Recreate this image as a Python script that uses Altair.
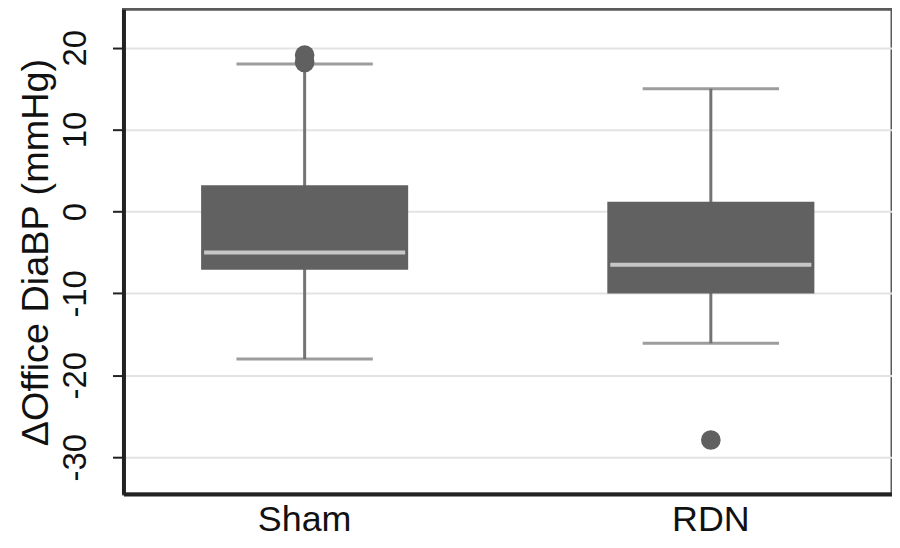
import altair as alt
import pandas as pd

groups = ["Sham", "RDN"]
q1 = [-7.1, -10.0]
q3 = [3.2, 1.2]
median = [-5.0, -6.5]
whisker_lo = [-18.0, -16.1]
whisker_hi = [18.0, 15.0]
outlier_group = ["Sham", "Sham", "RDN"]
outlier_value = [19.1, 18.2, -27.9]

stats = pd.DataFrame({
    "group": groups, "q1": q1, "q3": q3, "median": median,
    "lo": whisker_lo, "hi": whisker_hi,
})
outs = pd.DataFrame({"group": outlier_group, "value": outlier_value})

FONT = "Liberation Sans"
ydom = [-34.5, 24.7]

x = alt.X("group:N", sort=groups, title=None,
          scale=alt.Scale(paddingInner=0.5, paddingOuter=0.196),
          axis=alt.Axis(labelAngle=0, labelFont=FONT, labelFontSize=36,
                        labelColor="#111", ticks=False, domain=True,
                        domainColor="#222", domainWidth=4,
                        labelPadding=9))

yaxis = alt.Axis(values=[-30, -20, -10, 0, 10, 20], labelAngle=270,
                 labelExpr="datum.value < 0 ? '-' + abs(datum.value) : '' + datum.value",
                 labelFont=FONT, labelFontSize=33, labelColor="#111",
                 titleFont=FONT, titleFontSize=38, titleColor="#111",
                 titleFontWeight="normal", titleAngle=270,
                 titleX=-87, titleY=244, titleAlign="center",
                 titleBaseline="middle",
                 tickSize=11, tickColor="#222",
                 tickWidth=2, domainColor="#222", domainWidth=4,
                 gridColor="#e3e3e3", gridWidth=2, labelPadding=20)

base = alt.Chart(stats)

whisk = base.mark_rule(color="#737373", strokeWidth=3).encode(
    x=x,
    y=alt.Y("lo:Q", scale=alt.Scale(domain=ydom, nice=False, zero=False),
            title="ΔOffice DiaBP (mmHg)", axis=yaxis),
    y2="hi:Q",
)

cap_lo = base.mark_tick(color="#737373", size=137, thickness=3).encode(
    x=x, y="lo:Q")
cap_hi = base.mark_tick(color="#737373", size=137, thickness=3).encode(
    x=x, y="hi:Q")

box = base.mark_bar(color="#616161", size=208).encode(
    x=x, y="q1:Q", y2="q3:Q")

med = base.mark_tick(color="#f2f2f2", size=202, thickness=4).encode(
    x=x, y="median:Q")

pts = alt.Chart(outs).mark_circle(color="#606060", size=390, opacity=1).encode(
    x=x, y="value:Q")

chart = alt.layer(whisk, cap_lo, cap_hi, box, med, pts).properties(
    width=772, height=487,
    background="white",
    autosize=alt.AutoSizeParams(type="none"),
    padding={"left": 116, "top": 0, "right": 0, "bottom": 53},
).configure_view(stroke="#5a5a5a", strokeWidth=3)

chart.save("out.html", embed_options={"renderer": "svg", "actions": False})
